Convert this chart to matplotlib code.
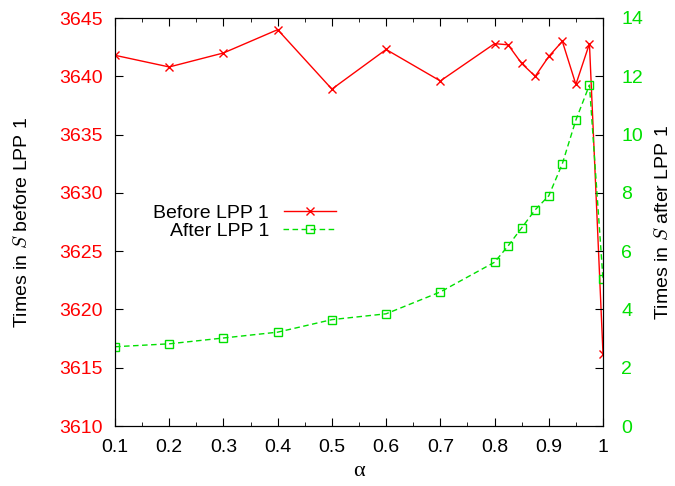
import matplotlib
matplotlib.use('Agg')
import matplotlib.pyplot as plt
from matplotlib.ticker import MultipleLocator

plt.rcParams['font.family'] = ['Liberation Sans', 'DejaVu Sans']
plt.rcParams['mathtext.fontset'] = 'cm'

# ── Data ───────────────────────────────────────────────────────────────────
alpha = [0.1, 0.2, 0.3, 0.4, 0.5, 0.6, 0.7, 0.8, 0.825, 0.85, 0.875,
         0.9, 0.925, 0.95, 0.975, 1.0]
before_lpp = [3641.8, 3640.8, 3642.0, 3644.0, 3638.9, 3642.3, 3639.6,
              3642.8, 3642.7, 3641.1, 3640.0, 3641.7, 3643.0, 3639.3,
              3642.8, 3616.2]
after_lpp = [2.72, 2.82, 3.02, 3.22, 3.65, 3.85, 4.6, 5.62, 6.18, 6.8,
             7.42, 7.9, 9.0, 10.5, 11.7, 5.03]
x_ticklabels = ['0.1', '0.2', '0.3', '0.4', '0.5', '0.6', '0.7', '0.8', '0.9', '1']

RED = '#ff0000'
GREEN = '#00e000'
FS = 14

fig = plt.figure(figsize=(6.75, 4.86), dpi=100)
ax = fig.add_axes([115 / 675, 60 / 486, 488 / 675, 408 / 486])
ax2 = ax.twinx()

l1, = ax.plot(alpha, before_lpp, color=RED, lw=1, marker='x', ms=6, mew=1,
              label='Before LPP 1')
l2, = ax2.plot(alpha, after_lpp, color=GREEN, lw=1, ls=(0, (4, 2.5)),
               marker='s', ms=6, mfc='none', mew=1, label='After LPP 1')

ax.set_xlim(0.1, 1.0)
ax.set_ylim(3610, 3645)
ax2.set_ylim(0, 14)

ax.set_xticks([0.1, 0.2, 0.3, 0.4, 0.5, 0.6, 0.7, 0.8, 0.9, 1.0])
ax.set_xticklabels(x_ticklabels)
ax.xaxis.set_minor_locator(MultipleLocator(0.05))
ax.yaxis.set_major_locator(MultipleLocator(5))
ax2.yaxis.set_major_locator(MultipleLocator(2))

# gnuplot-like inward ticks, mirrored on top
ax.tick_params(axis='x', which='both', direction='in', top=True, labelsize=FS, pad=9)
ax.tick_params(axis='x', which='major', length=6)
ax.tick_params(axis='x', which='minor', length=3)
ax.tick_params(axis='y', direction='in', length=6, labelsize=FS, labelcolor=RED, pad=9)
ax2.tick_params(axis='y', direction='in', length=6, labelsize=FS, labelcolor=GREEN, pad=13)

ax.set_xlabel('α', fontsize=FS + 2, family='Liberation Serif', labelpad=5)
ax.set_ylabel(r'Times in $S$ before LPP 1', fontsize=FS, labelpad=20)
ax2.set_ylabel(r'Times in $S$ after LPP 1', fontsize=FS, labelpad=8)

leg = fig.legend(handles=[l1, l2], loc='upper right',
                 bbox_to_anchor=(336 / 675, 1 - 204 / 486),
                 frameon=False, fontsize=FS, markerfirst=False, handlelength=2.7,
                 handletextpad=0.75, labelspacing=0.05, borderpad=0, borderaxespad=0)
for t in leg.get_texts():
    t.set_ha('right')
    t.set_position((0, 0))
leg._legend_box.align = 'right'

fig.savefig('out.png', dpi=100)
